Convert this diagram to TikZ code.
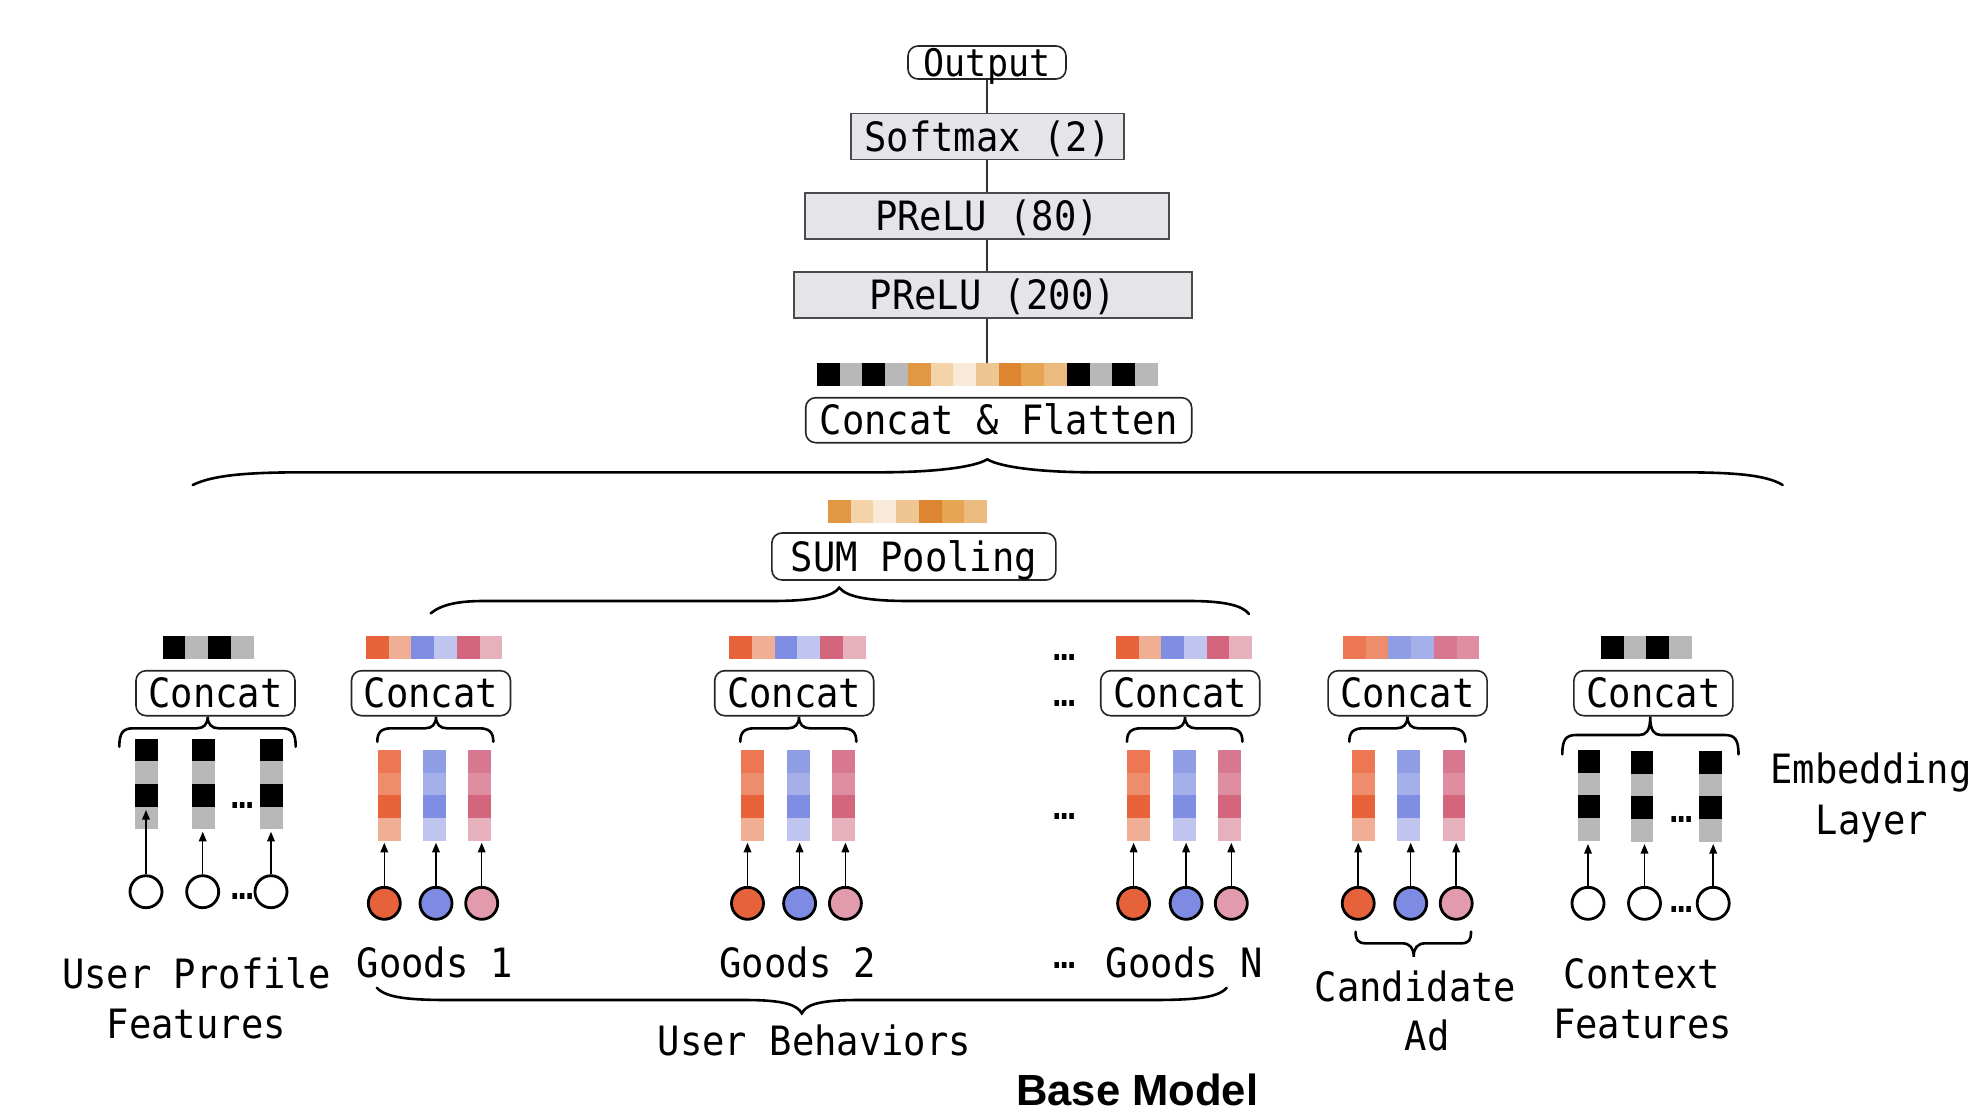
\documentclass[tikz,border=0pt]{standalone}
\usepackage{fontspec}
\setmainfont{DejaVu Sans Mono}[FakeStretch=0.92]
\newfontfamily\titlefont{Liberation Sans}
\usetikzlibrary{arrows.meta}

\definecolor{cgray}{HTML}{B8B8B8}
\definecolor{boxfill}{HTML}{E4E4E9}
\definecolor{boxdraw}{HTML}{4A4A4A}
% orange pooled colours
\definecolor{oa}{HTML}{E29843}
\definecolor{ob}{HTML}{F4D3A8}
\definecolor{oc}{HTML}{F8E9D9}
\definecolor{od}{HTML}{EEC593}
\definecolor{oe}{HTML}{DD8530}
\definecolor{of}{HTML}{E6A553}
\definecolor{og}{HTML}{EBBA7F}
% goods column colours
\definecolor{ra}{HTML}{EC7752}
\definecolor{rb}{HTML}{ED8D6B}
\definecolor{rc}{HTML}{E8633A}
\definecolor{rd}{HTML}{F0AE94}
\definecolor{ba}{HTML}{8F9DE5}
\definecolor{bb}{HTML}{A5AFE9}
\definecolor{bc}{HTML}{7F8DE2}
\definecolor{bd}{HTML}{BFC5EF}
\definecolor{pa}{HTML}{D87890}
\definecolor{pb}{HTML}{DF8EA1}
\definecolor{pc}{HTML}{D3657C}
\definecolor{pd}{HTML}{E7B0BD}
\definecolor{corange}{HTML}{E6623A}
\definecolor{cblue}{HTML}{7D8BE2}
\definecolor{cpink}{HTML}{E29BAC}

\newcommand\cellbar[3]{% x0, y0, colour list
  \foreach \cc [count=\ii from 0] in {#3} {\fill[fill=\cc] ({#1+\ii*22.71},#2) rectangle ++(22.71,22.7);}}
\newcommand\embcol[6]{% x0, y0, four colours top to bottom
  \fill[fill=#3] (#1,#2) rectangle ++(22.7,22.67);
  \fill[fill=#4] (#1,{#2+22.67}) rectangle ++(22.7,22.67);
  \fill[fill=#5] (#1,{#2+45.34}) rectangle ++(22.7,22.67);
  \fill[fill=#6] (#1,{#2+68.01}) rectangle ++(22.7,22.67);}
\newcommand\featin[5]{% name, x, y, fill, tip y
  \node[circ,fill=#4] (#1) at (#2,#3) {};
  \coordinate (#1t) at (#2,#5);
  \draw[arr] (#1) -- (#1t);}
\newcommand\upbrace[6]{% xl, xr, xtip, ytip, yline, yend
  \draw[brc] (#1,#6) .. controls (#1,{#5+4}) and ({#1+4},#5) .. ({#1+14},#5)
    -- ({#3-11},#5) .. controls ({#3-4},#5) and (#3,{#5-4}) .. (#3,#4)
    .. controls (#3,{#5-4}) and ({#3+4},#5) .. ({#3+11},#5)
    -- ({#2-14},#5) .. controls ({#2-4},#5) and (#2,{#5+4}) .. (#2,#6);}

\tikzset{
  lbl/.style={font=\fontsize{20.2}{25}\selectfont, inner sep=0pt},
  dots/.style={font=\fontsize{20.2}{25}\selectfont, inner sep=0pt, anchor=center},
  rbox/.style={draw=black!85, line width=0.8pt, rounded corners=5pt, fill=white,
    minimum height=22.5pt, minimum width=79.5pt, text height=14.7pt, text depth=0pt,
    inner sep=0pt, font=\fontsize{20.2}{25}\selectfont},
  gbox/.style={draw=boxdraw, fill=boxfill, line width=0.8pt, minimum height=23pt,
    text height=14.7pt, text depth=0pt, inner sep=0pt, font=\fontsize{20.2}{25}\selectfont},
  circ/.style={circle, draw=black, line width=1.4pt, minimum size=16pt, inner sep=0pt},
  arr/.style={-{Triangle[length=4.8pt,width=3.8pt]}, line width=0.75pt},
  brc/.style={line width=1.3pt, line cap=round},
  link/.style={line width=0.6pt, draw=black!80},
}

\begin{document}
\begin{tikzpicture}[x=0.5pt,y=-0.5pt]
\fill[white] (0,0) rectangle (1982,1116);
\useasboundingbox (0,0) rectangle (1982,1116);

% ---------- top stack ----------
\node[rbox, minimum width=79pt, minimum height=16.5pt, text height=13.6pt, font=\fontsize{19}{25}\selectfont] (out) at (987,62.5) {Output};
\node[gbox, minimum width=136.5pt] (soft) at (987.5,136.5) {Softmax (2)};
\node[gbox, minimum width=182pt] (p80) at (987,216) {PReLU (80)};
\node[gbox, minimum width=199pt] (p200) at (992.7,295) {PReLU (200)};
\coordinate (cfbar) at (987,363);
\node[rbox, minimum width=193pt] (cf) at (998.7,420.2) {Concat \& Flatten};

\draw[link] (out.south) -- (out.south |- soft.north);
\draw[link] (out.south |- soft.south) -- (out.south |- p80.north);
\draw[link] (out.south |- p80.south) -- (out.south |- p200.north);
\draw[link] (out.south |- p200.south) -- (cfbar);

\cellbar{817}{363}{black,cgray,black,cgray,oa,ob,oc,od,oe,of,og,black,cgray,black,cgray}

% big brace
\draw[brc] (192.7,485) .. controls (215,474) and (255,472.3) .. (306.7,472.3)
  -- (880,472.3) .. controls (935,472.3) and (975,467) .. (987.3,459.3)
  .. controls (1000,467) and (1040,472.3) .. (1094,472.3)
  -- (1676.7,472.3) .. controls (1728,472.3) and (1765,474) .. (1782.7,485);

% ---------- SUM pooling ----------
\cellbar{828}{500}{oa,ob,oc,od,oe,of,og}
\node[rbox, minimum width=142pt, minimum height=23.5pt] (sum) at (913.9,556.5) {SUM Pooling};
\draw[brc] (430.7,613.3) .. controls (442,604) and (460,601) .. (483.3,601)
  -- (770,601) .. controls (812,601) and (832,597) .. (839.3,587.7)
  .. controls (847,597) and (868,601) .. (910,601)
  -- (1190,601) .. controls (1226,601) and (1243,606) .. (1249,614);

% ---------- concat boxes and bars ----------
\cellbar{162.7}{636}{black,cgray,black,cgray}
\cellbar{366}{636}{rc,rd,bc,bd,pc,pd}
\cellbar{729.3}{636}{rc,rd,bc,bd,pc,pd}
\cellbar{1115.8}{636}{rc,rd,bc,bd,pc,pd}
\cellbar{1343}{636}{ra,rb,ba,bb,pa,pb}
\cellbar{1601}{636}{black,cgray,black,cgray}

\node[rbox] (cup) at (215.5,693.2) {Concat};
\node[rbox] (cg1) at (431,693.2) {Concat};
\node[rbox] (cg2) at (794.2,693.2) {Concat};
\node[rbox] (cgn) at (1180.2,693.2) {Concat};
\node[rbox] (cca) at (1407.6,693.2) {Concat};
\node[rbox] (cctx) at (1653.4,693.2) {Concat};

\upbrace{119.3}{295.7}{207.7}{716.7}{728.3}{746.7}
\upbrace{377.3}{493.3}{436}{716.7}{728.3}{741.7}
\upbrace{740.3}{856.3}{799}{716.7}{728.3}{741.7}
\upbrace{1127}{1242.4}{1185}{716.7}{728.3}{741.7}
\upbrace{1349.3}{1465.4}{1407.4}{716.7}{728.3}{741.7}
\upbrace{1562.3}{1738.5}{1650.2}{716.7}{735}{754.3}

% ---------- embedding columns ----------
\embcol{135}{738.7}{black}{cgray}{black}{cgray}
\embcol{192}{738.7}{black}{cgray}{black}{cgray}
\embcol{260}{738.7}{black}{cgray}{black}{cgray}

\embcol{378}{750}{ra}{rb}{rc}{rd}
\embcol{423.3}{750}{ba}{bb}{bc}{bd}
\embcol{468.3}{750}{pa}{pb}{pc}{pd}

\embcol{741}{750}{ra}{rb}{rc}{rd}
\embcol{787}{750}{ba}{bb}{bc}{bd}
\embcol{832}{750}{pa}{pb}{pc}{pd}

\embcol{1127}{750}{ra}{rb}{rc}{rd}
\embcol{1173.2}{750}{ba}{bb}{bc}{bd}
\embcol{1218}{750}{pa}{pb}{pc}{pd}

\embcol{1352}{750}{ra}{rb}{rc}{rd}
\embcol{1397.4}{750}{ba}{bb}{bc}{bd}
\embcol{1442.5}{750}{pa}{pb}{pc}{pd}

\embcol{1577.5}{750}{black}{cgray}{black}{cgray}
\embcol{1630.6}{751}{black}{cgray}{black}{cgray}
\embcol{1699.3}{751}{black}{cgray}{black}{cgray}

% ---------- feature inputs ----------
\featin{ua}{146}{891.7}{white}{810}
\featin{ub}{202.7}{891.7}{white}{831.7}
\featin{uc}{271}{891.7}{white}{831.7}

\featin{ga}{384.3}{903.3}{corange}{842.7}
\featin{gb}{436}{903.3}{cblue}{842.7}
\featin{gc}{481.7}{903.3}{cpink}{842.7}

\featin{ha}{747.5}{903.3}{corange}{842.7}
\featin{hb}{799.6}{903.3}{cblue}{842.7}
\featin{hc}{845.4}{903.3}{cpink}{842.7}

\featin{na}{1133.6}{903.3}{corange}{842.7}
\featin{nb}{1186.1}{903.3}{cblue}{842.7}
\featin{nc}{1231.3}{903.3}{cpink}{842.7}

\featin{aa}{1358.2}{903.3}{corange}{842.7}
\featin{ab}{1410.7}{903.3}{cblue}{842.7}
\featin{ac}{1456.2}{903.3}{cpink}{842.7}

\featin{xa}{1588}{903.3}{white}{844}
\featin{xb}{1644.5}{903.3}{white}{844}
\featin{xc}{1713.2}{903.3}{white}{844}

% ---------- ellipses ----------
\node[dots] (d1) at (243,805.7) {…};
\node[dots] (d2) at (243,896.7) {…};
\node[dots] (d3) at (1065,657.7) {…};
\node[dots] (d4) at (1065,703.3) {…};
\node[dots] (d5) at (1065,816.7) {…};
\node[dots] (d6) at (1065,965) {…};
\node[dots] (d7) at (1681.7,819) {…};
\node[dots] (d8) at (1681.7,909) {…};

% ---------- lower braces ----------
\draw[brc] (376.8,987.7) .. controls (386,998) and (410,1000) .. (450,1000)
  -- (745,1000) .. controls (785,1000) and (797,1005) .. (801.8,1013.3)
  .. controls (806,1005) and (818,1000) .. (858,1000)
  -- (1150,1000) .. controls (1194,1000) and (1218,998) .. (1226.8,987.7);
\draw[brc] (1355.6,931.7) .. controls (1355.6,940) and (1358,943.3) .. (1366,943.3)
  -- (1402,943.3) .. controls (1410,943.3) and (1413.7,948) .. (1413.7,956.7)
  .. controls (1413.7,948) and (1417.4,943.3) .. (1425.4,943.3)
  -- (1461,943.3) .. controls (1469,943.3) and (1471,940) .. (1471,931.7);

% ---------- labels ----------
\node[lbl, anchor=base] (lup1) at (196.3,988.3) {User Profile};
\node[lbl, anchor=base] (lup2) at (196.3,1038.3) {Features};
\node[lbl, anchor=base] (lg1) at (435,977.7) {Goods 1};
\node[lbl, anchor=base] (lg2) at (797.9,977.7) {Goods 2};
\node[lbl, anchor=base] (lgn) at (1184.3,977.7) {Goods N};
\node[lbl, anchor=base] (lub) at (814.4,1055) {User Behaviors};
\node[lbl, anchor=base] (lca1) at (1415.5,1001.7) {Candidate};
\node[lbl, anchor=base] (lca2) at (1427,1050) {Ad};
\node[lbl, anchor=base] (lcx1) at (1642,988.3) {Context};
\node[lbl, anchor=base] (lcx2) at (1642.5,1038.3) {Features};
\node[lbl, anchor=base] (lem1) at (1871,783) {Embedding};
\node[lbl, anchor=base] (lem2) at (1871.8,834) {Layer};
\node[inner sep=0pt, anchor=base, font=\titlefont\bfseries\fontsize{21.8}{25}\selectfont] (title) at (1137.2,1105.7) {Base Model};
\end{tikzpicture}
\end{document}
